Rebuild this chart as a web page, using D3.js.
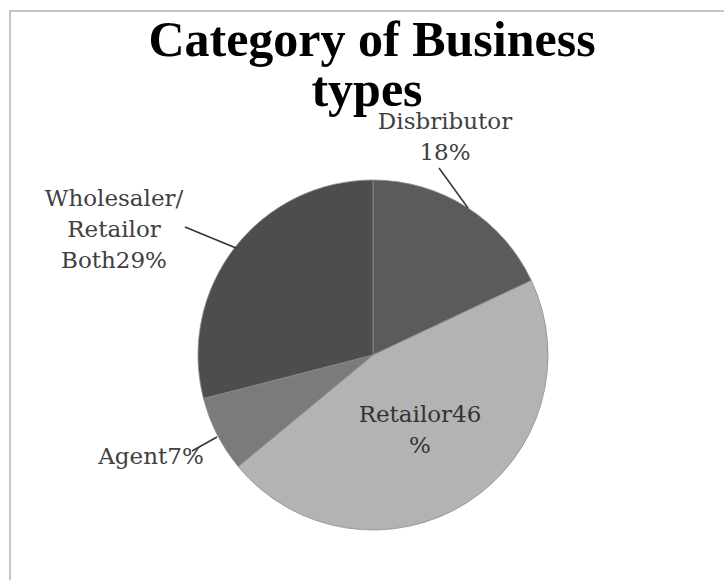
<!DOCTYPE html>
<html>
<head>
<meta charset="utf-8">
<script src="https://cdn.jsdelivr.net/npm/d3@7"></script>
<style>
  body { margin: 0; background: #fff; }
</style>
</head>
<body>
<div class="pie-chart"></div>
<script>
const categories = ["Disbributor", "Retailor", "Agent", "Wholesaler/Retailor Both"];
const shares = [18, 46, 7, 29];
const labelLines = [["Disbributor", "18%"], ["Retailor46", "%"], ["Agent7%"], ["Wholesaler/", "Retailor", "Both29%"]];
const sliceColors = ["#5b5b5b", "#b3b3b3", "#7b7b7b", "#4d4d4d"];

const width = 724;
const height = 580;
const cx = 373;
const cy = 355;
const radius = 175;

const data = categories.map((c, i) => ({ category: c, share: shares[i], lines: labelLines[i], color: sliceColors[i] }));

const svg = d3.select('.pie-chart')
  .append('svg')
  .attr('width', width)
  .attr('height', height);

// chart frame (only left and top edges show)
svg.append("rect")
  .attr("x", 10)
  .attr("y", 11)
  .attr("width", 730)
  .attr("height", 590)
  .attr("fill", "none")
  .attr("stroke", "#c6c6c6")
  .attr("stroke-width", 2);

svg.append("text")
  .attr("x", 372)
  .attr("y", 56)
  .attr("text-anchor", "middle")
  .attr("font-family", "Liberation Serif")
  .attr("font-weight", "bold")
  .attr("font-size", 50)
  .attr("fill", "#000")
  .text("Category of Business");

svg.append("text")
  .attr("x", 367)
  .attr("y", 106)
  .attr("text-anchor", "middle")
  .attr("font-family", "Liberation Serif")
  .attr("font-weight", "bold")
  .attr("font-size", 50)
  .attr("fill", "#000")
  .text("types");

const pie = d3.pie()
  .sort(null)
  .value(d => d.share);

const arc = d3.arc()
  .innerRadius(0)
  .outerRadius(radius);

const g = svg.append("g")
  .attr("transform", `translate(${cx},${cy})`);

const arcs = pie(data);

g.selectAll("path")
  .data(arcs)
  .enter()
  .append("path")
  .attr("d", arc)
  .attr("fill", d => d.data.color)
  .attr("stroke", "#8c8c8c")
  .attr("stroke-width", 0.8);

// label anchors (centre x, first baseline) and leader lines, by category
const labelPos = {
  "Disbributor": { x: 445, y: 129, line: [[439, 168], [468, 208]] },
  "Retailor": { x: 420, y: 422, line: null },
  "Agent": { x: 151, y: 464, line: [[217, 437], [192, 451]] },
  "Wholesaler/Retailor Both": { x: 114, y: 206, line: [[185, 227], [236, 248]] }
};

const lineGap = 31;

arcs.forEach(a => {
  const p = labelPos[a.data.category];
  if (p.line) {
    svg.append("line")
      .attr("x1", p.line[0][0])
      .attr("y1", p.line[0][1])
      .attr("x2", p.line[1][0])
      .attr("y2", p.line[1][1])
      .attr("stroke", "#333")
      .attr("stroke-width", 1.5);
  }
  const t = svg.append("text")
    .attr("text-anchor", "middle")
    .attr("font-family", "DejaVu Serif")
    .attr("font-size", 23)
    .attr("fill", a.data.category === "Retailor" ? "#333" : "#404040");
  a.data.lines.forEach((s, i) => {
    t.append("tspan")
      .attr("x", p.x)
      .attr("y", p.y + i * lineGap)
      .text(s);
  });
});
</script>
</body>
</html>
